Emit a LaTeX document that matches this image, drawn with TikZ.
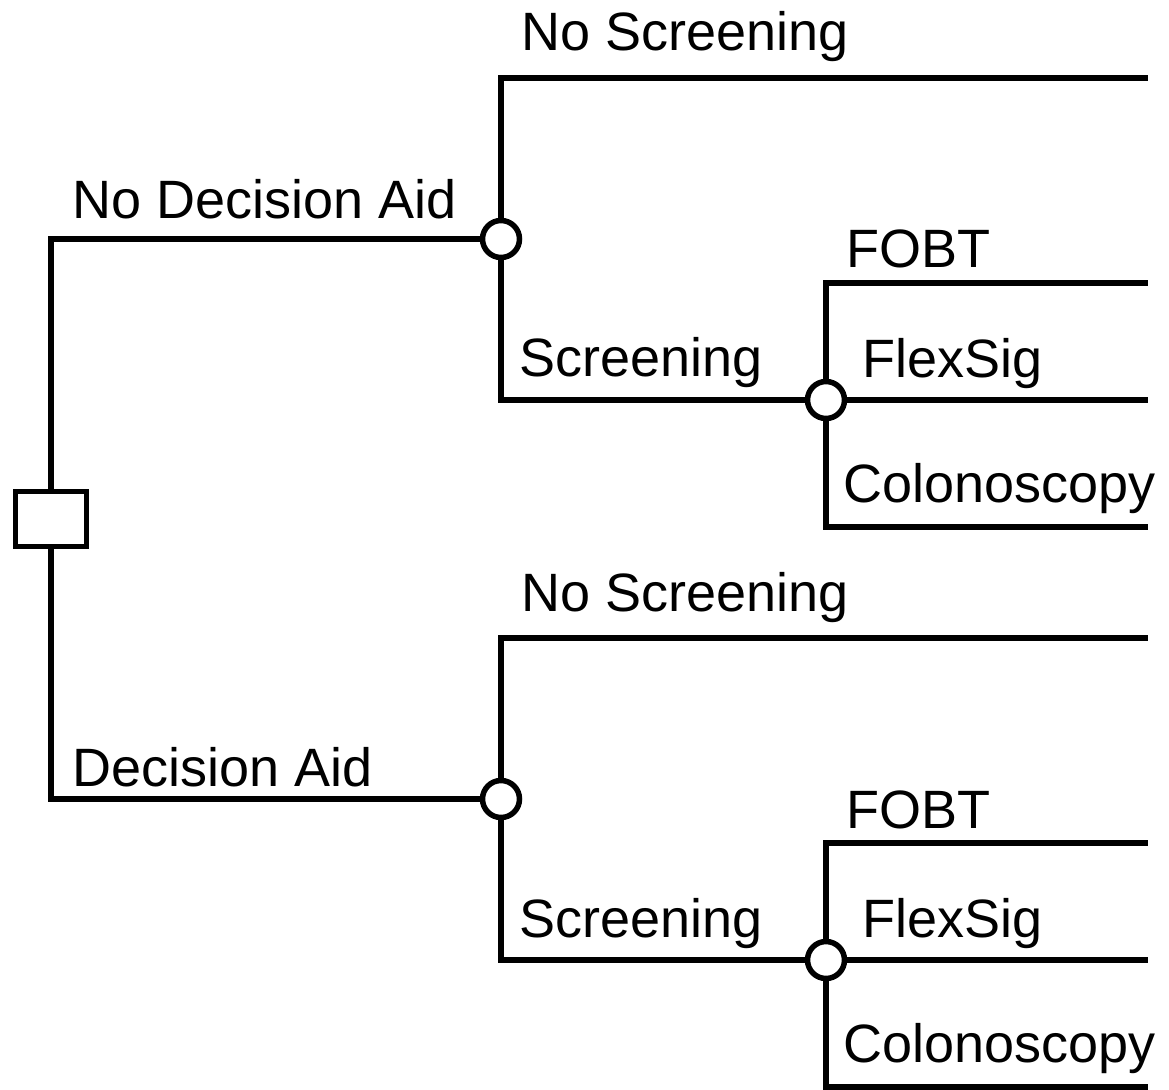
\documentclass[tikz,border=0pt]{standalone}
\usepackage{fontspec}
\setmainfont{Liberation Sans}
\begin{document}
\begin{tikzpicture}[x=1pt,y=-1pt,
  branch/.style={line width=5.5pt},
  decnode/.style={draw,line width=5.5pt,rectangle,minimum width=71pt,minimum height=55pt,inner sep=0pt,fill=white},
  chance/.style={draw,line width=5.5pt,circle,minimum size=37pt,inner sep=0pt,fill=white},
  lbl/.style={anchor=base west,inner sep=0pt,font=\fontsize{54}{60}\selectfont}]
\useasboundingbox (0,0) rectangle (1169,1089);
% free ends of the branches
\coordinate (ns1) at (1148,78);
\coordinate (fo1) at (1148,283);
\coordinate (fl1) at (1148,400);
\coordinate (co1) at (1148,527);
\coordinate (ns2) at (1148,638);
\coordinate (fo2) at (1148,843);
\coordinate (fl2) at (1148,960);
\coordinate (co2) at (1148,1087);
% nodes
\node[decnode] (d) at (51,519) {};
\node[chance] (c1) at (501,239) {};
\node[chance] (c2) at (826,400) {};
\node[chance] (c3) at (501,799) {};
\node[chance] (c4) at (826,960) {};
% connectors
\draw[branch] (d.north) |- (c1.west);
\draw[branch] (d.south) |- (c3.west);
\draw[branch] (c1.north) |- (ns1);
\draw[branch] (c1.south) |- (c2.west);
\draw[branch] (c2.north) |- (fo1);
\draw[branch] (c2.east) -- (fl1);
\draw[branch] (c2.south) |- (co1);
\draw[branch] (c3.north) |- (ns2);
\draw[branch] (c3.south) |- (c4.west);
\draw[branch] (c4.north) |- (fo2);
\draw[branch] (c4.east) -- (fl2);
\draw[branch] (c4.south) |- (co2);
% labels
\node[lbl] (t1) at (521,51) {No Screening};
\node[lbl] (t2) at (72,218) {No Decision Aid};
\node[lbl] (t3) at (519,376) {Screening};
\node[lbl] (t4) at (846,267) {FOBT};
\node[lbl] (t5) at (862,377) {FlexSig};
\node[lbl] (t6) at (843,502) {Colonoscopy};
\node[lbl] (t7) at (521,611) {No Screening};
\node[lbl] (t8) at (72,786) {Decision Aid};
\node[lbl] (t9) at (519,937) {Screening};
\node[lbl] (t10) at (846,828) {FOBT};
\node[lbl] (t11) at (862,937) {FlexSig};
\node[lbl] (t12) at (843,1062) {Colonoscopy};
\end{tikzpicture}
\end{document}
